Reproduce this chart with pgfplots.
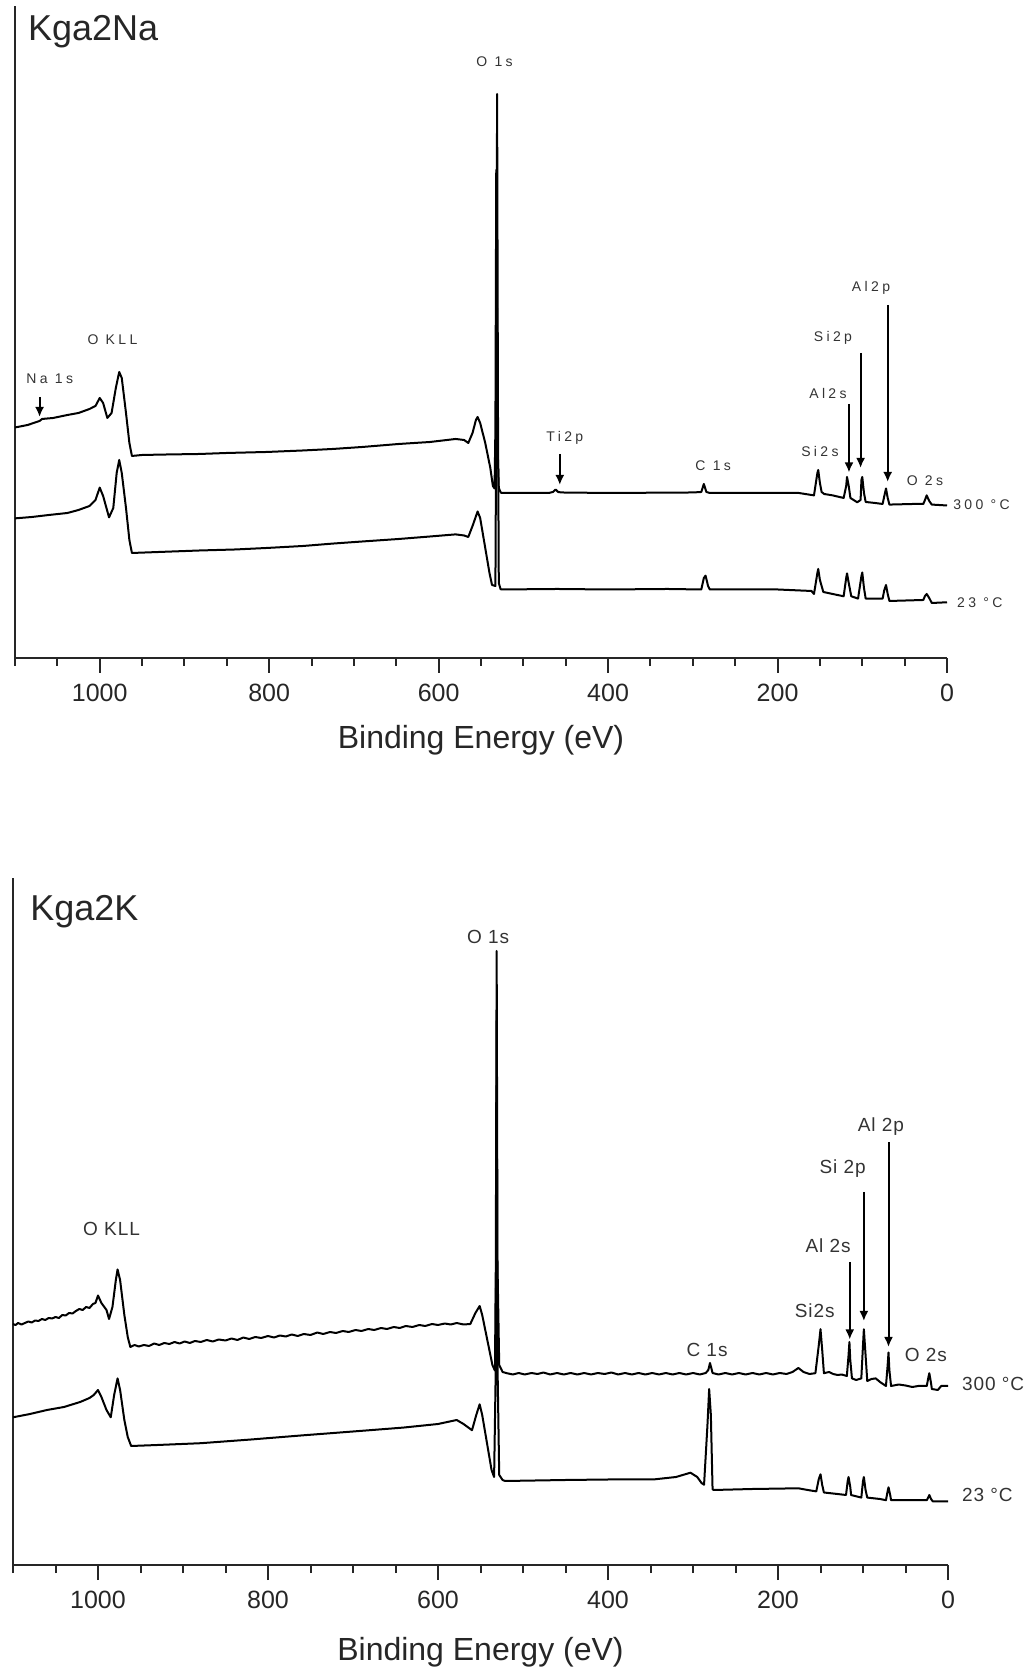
\documentclass[border=0pt]{standalone}
\usepackage{fontspec}
\setmainfont{Liberation Sans}
\newfontfamily\lblA[LetterSpace=24]{Liberation Sans}
\newfontfamily\lblB[LetterSpace=5]{Liberation Sans}
\usepackage{pgfplots}
\pgfplotsset{compat=1.18}
\usetikzlibrary{arrows.meta}
\tikzset{
  lblA/.style={font=\lblA\fontsize{7}{8}\selectfont, text=black!80, inner sep=0pt},
  lblB/.style={font=\lblB\fontsize{9.5}{11}\selectfont, text=black!80, inner sep=0pt},
  arr/.style={-{Latex[length=5pt,width=4.5pt]}, line width=1pt, black},
  trace/.style={black, line width=1pt, mark=none, line join=round},
}
\begin{document}
\begin{tikzpicture}
\useasboundingbox (0,0) rectangle (514pt,836.5pt);
\pgfplotsset{
  xpsstyle/.style={
    scale only axis, clip=false,
    xmin=-1100, xmax=0, ymin=0,
    axis x line*=bottom, axis y line*=left,
    axis line style={-, line width=1pt, black!85},
    ytick=\empty,
    xtick={-1000,-800,-600,-400,-200,0},
    xticklabels={1000,800,600,400,200,0},
    minor xtick={-1100,-1050,-950,-900,-850,-750,-700,-650,-550,-500,-450,-350,-300,-250,-150,-100,-50},
    tick align=outside,
    major tick length=7.5pt, minor tick length=4pt,
    tick style={line width=1pt, black!85},
    xticklabel style={font=\fontsize{12.5}{14}\selectfont, text=black!85, yshift=-2pt},
    xlabel={Binding Energy (eV)},
    xlabel style={font=\fontsize{16}{18}\selectfont, text=black!85},
  },
}
% ---------------- top panel ----------------
\begin{axis}[xpsstyle, at={(7.5pt,507.5pt)}, anchor=south west,
  width=466pt, height=326pt, ymax=652,
  xlabel style={at={(axis description cs:0.5,0)}, anchor=center, yshift=-41pt}]
\addplot[trace] coordinates {(-1100,230.5) (-1085,233) (-1071,237) (-1068,239) (-1055,240) (-1038,243) (-1025,245) (-1012,249) (-1005,252) (-1000,260) (-996,255) (-991,240) (-986,245) (-981,270) (-977,286) (-974,280) (-969,245) (-965,215) (-962,202) (-950,203) (-920,203.5) (-882,204) (-850,205) (-803,206) (-760,207.5) (-725,209) (-690,211) (-647,214) (-610,216) (-580,219) (-570,218) (-565,215) (-560,225) (-556,238) (-554,241) (-551,235) (-545,215) (-539,190) (-536,172) (-534,169.5) (-533,230) (-532,488) (-531,330) (-530,200) (-529,170) (-527,166) (-526,165) (-500,165) (-470,165) (-465,166) (-462,168.5) (-459,166) (-455,165.5) (-400,165) (-300,165.5) (-290,166) (-287,174) (-284,166) (-280,165) (-200,165) (-175,165) (-160,163) (-157,162.6) (-153,185) (-152,188) (-150,175) (-148,166) (-145,164) (-135,162.6) (-122,160) (-119,172) (-118,181) (-116,172) (-114,160) (-106,155.7) (-102,158) (-101,178) (-100,181) (-98,165) (-96,156) (-85,155) (-76,154) (-74,162) (-72,169.5) (-70,160) (-68,153.4) (-40,154) (-28,154) (-26,158) (-24,162.6) (-21,157) (-18,153.4) (-10,153) (0,152.5)};
\addplot[trace] coordinates {(-1100,139.6) (-1080,141) (-1060,143) (-1038,145) (-1025,148) (-1012,152) (-1005,158) (-1000,170.4) (-996,162) (-989,140.6) (-984,150) (-980,185) (-977,198) (-974,185) (-969,150) (-965,118) (-962,105) (-930,106) (-882,107.5) (-840,108.5) (-803,110) (-760,112) (-725,114.4) (-690,116.5) (-647,119) (-610,121.5) (-580,123.6) (-570,122.5) (-565,121) (-560,132) (-554,146.5) (-551,140) (-545,110) (-540,85) (-537,73) (-533,72) (-532,250) (-531,564) (-530,250) (-529,75) (-527,69) (-526,68.5) (-460,69) (-400,68.5) (-330,69) (-290,68.5) (-287,80) (-285,82.3) (-282,72) (-280,68.5) (-200,68.5) (-160,67) (-157,64) (-153,85) (-152,89) (-150,78) (-146,66) (-135,64) (-122,61.7) (-119,80) (-118,84.6) (-116,75) (-113,61.7) (-105,59.4) (-101,82) (-100,85.5) (-98,70) (-96,59.4) (-76,59.4) (-74,68) (-72,73) (-70,64) (-68,57) (-28,58) (-26,62) (-24,64) (-21,60) (-18,55) (0,55.7)};
\node[anchor=west, font=\fontsize{18}{20}\selectfont, text=black!85, inner sep=0pt] at (axis cs:-1085,626) {Kga2Na};
\node[lblA] at (axis cs:-534,596) {O 1s};
\node[lblA] at (axis cs:-985,318.5) {O KLL};
\node[lblA] at (axis cs:-1059,279) {Na 1s};
\node[lblA] at (axis cs:-451,220) {Ti2p};
\node[lblA] at (axis cs:-276,192) {C 1s};
\node[lblA] at (axis cs:-150,206) {Si2s};
\node[lblA] at (axis cs:-140.5,264) {Al2s};
\node[lblA] at (axis cs:-134.6,320) {Si2p};
\node[lblA] at (axis cs:-89.7,370) {Al2p};
\node[lblA] at (axis cs:-26,177) {O 2s};
\node[lblA, anchor=west] at (axis cs:7,153.4) {300 °C};
\node[lblA, anchor=west] at (axis cs:11.5,55) {23 °C};
\draw[arr] (axis cs:-1071,261) -- (axis cs:-1071,241);
\draw[arr] (axis cs:-457,204) -- (axis cs:-457,173);
\draw[arr] (axis cs:-115.7,254) -- (axis cs:-115.7,185.5);
\draw[arr] (axis cs:-102,305) -- (axis cs:-102,190);
\draw[arr] (axis cs:-70,353) -- (axis cs:-70,176);
\end{axis}
% ---------------- bottom panel ----------------
\begin{axis}[xpsstyle, at={(6.5pt,54pt)}, anchor=south west,
  width=467.5pt, height=343.5pt, ymax=687,
  xlabel style={at={(axis description cs:0.5,0)}, anchor=center, yshift=-43.5pt}]
\addplot[trace] coordinates {(-1100,241) (-1097,240) (-1094,242) (-1090,240.5) (-1086,242) (-1082,243.5) (-1078,242.5) (-1074,244.5) (-1070,244) (-1066,246) (-1062,245) (-1058,247) (-1054,246.5) (-1050,248) (-1046,247) (-1042,250) (-1038,249.5) (-1034,252) (-1030,251.5) (-1026,254) (-1022,256) (-1018,255) (-1014,258) (-1010,257) (-1006,261) (-1003,262) (-1000,269.5) (-996,262) (-990,255) (-987,246) (-983,258) (-979,285) (-977,295.5) (-974,285) (-969,250) (-965,228) (-962,218) (-957,220) (-952,218.5) (-946,220) (-940,219) (-934,221.5) (-928,220) (-922,222) (-916,221) (-910,223) (-904,221.5) (-898,223.5) (-892,222) (-886,224) (-879,223) (-872,225) (-865,223.5) (-858,225.5) (-850,224.5) (-843,226.5) (-836,225) (-829,227.5) (-822,226) (-815,228) (-808,227) (-800,229) (-793,227.5) (-786,229.5) (-779,228.5) (-772,230.5) (-765,229) (-758,231) (-750,230) (-742,232.5) (-735,231) (-727,233) (-720,232) (-712,234) (-705,233) (-697,235) (-690,234) (-682,236) (-675,235) (-667,237) (-660,236) (-652,238) (-645,237) (-638,239) (-630,238) (-622,240) (-615,239) (-607,241) (-600,240) (-592,241.5) (-585,240.5) (-578,242) (-570,240.5) (-562,241) (-556,252) (-551,259) (-548,250) (-542,225) (-536,200) (-533,194.4) (-532,300) (-531,614) (-530,300) (-528,200) (-524,193) (-519,191.8) (-512,190.5) (-505,192) (-498,190.5) (-490,192) (-483,191) (-476,192.5) (-468,190.5) (-460,192) (-452,190.5) (-444,192) (-436,190.5) (-428,192) (-420,190.5) (-412,192) (-404,191) (-396,192.5) (-388,190.5) (-380,192) (-372,190.5) (-364,192) (-356,190.5) (-348,192) (-340,190.5) (-332,192) (-324,190.5) (-316,192) (-308,190.5) (-300,192) (-292,190.5) (-285,192) (-282,195) (-280,202) (-277,192) (-270,190.5) (-262,192) (-254,190.5) (-246,192) (-238,190.5) (-230,192) (-222,190.5) (-214,192) (-206,190.5) (-198,192) (-190,191) (-183,193) (-176,197) (-170,193) (-163,191) (-156,191.8) (-152,220) (-150,235.8) (-148,215) (-146,191.8) (-140,193) (-135,191) (-130,190) (-125,190.5) (-119,189) (-117,210) (-116,223) (-115,205) (-113,186.6) (-108,185) (-102,186.6) (-100,220) (-99,235.8) (-97,210) (-95,184) (-90,186) (-85,186.6) (-80,183) (-73,179) (-71,200) (-70,212.5) (-69,195) (-67,179) (-58,180.5) (-50,179.5) (-42,178) (-35,179) (-25,179) (-23,188) (-22,191.8) (-20,182) (-19,176) (-12,175) (-8,179) (0,179)};
\addplot[trace] coordinates {(-1100,147.7) (-1080,151) (-1060,155) (-1040,158) (-1021,163) (-1010,167) (-1005,170) (-1000,175) (-996,168) (-990,155) (-985,147.7) (-981,170) (-977,186.6) (-974,175) (-969,145) (-965,128) (-961,119) (-930,120) (-879,121.8) (-820,125.5) (-760,129.6) (-700,133.5) (-641,137.4) (-600,141) (-578,145) (-570,141) (-560,134.8) (-555,150) (-551,160.7) (-548,150) (-542,120) (-537,95) (-534,88) (-532,200) (-531,544.3) (-530,200) (-528,90) (-524,85) (-521,84) (-450,85) (-400,85.5) (-347,85.5) (-320,88) (-303,92.3) (-295,88) (-290,82) (-287,80.3) (-283,140) (-281,176) (-279,150) (-277,76) (-276,75) (-230,76) (-176,76.7) (-165,75) (-155,73.6) (-152,86) (-150,90.7) (-148,80) (-146,72.5) (-130,71) (-120,70) (-118,84) (-117,88) (-115,78) (-114,70) (-102,67.4) (-100,84) (-99,88) (-97,75) (-95,67.4) (-80,66) (-73,64.8) (-71,74) (-70,77.7) (-68,70) (-67,64.8) (-25,64.8) (-23,68) (-22,70) (-20,66) (-18,63.7) (0,63.7)};
\node[anchor=west, font=\fontsize{18}{20}\selectfont, text=black!85, inner sep=0pt] at (axis cs:-1080,653) {Kga2K};
\node[lblB] at (axis cs:-541,628) {O 1s};
\node[lblB] at (axis cs:-984,336) {O KLL};
\node[lblB] at (axis cs:-283.5,215) {C 1s};
\node[lblB] at (axis cs:-156.8,254) {Si2s};
\node[lblB] at (axis cs:-141,319) {Al 2s};
\node[lblB] at (axis cs:-124,396.5) {Si 2p};
\node[lblB] at (axis cs:-79,438) {Al 2p};
\node[lblB] at (axis cs:-26,210) {O 2s};
\node[lblB, anchor=west] at (axis cs:16,181.4) {300 °C};
\node[lblB, anchor=west] at (axis cs:16,70) {23 °C};
\draw[arr] (axis cs:-115.6,303) -- (axis cs:-115.6,225.5);
\draw[arr] (axis cs:-99,373) -- (axis cs:-99,244);
\draw[arr] (axis cs:-70,422.5) -- (axis cs:-70,218);
\end{axis}
\end{tikzpicture}
\end{document}
